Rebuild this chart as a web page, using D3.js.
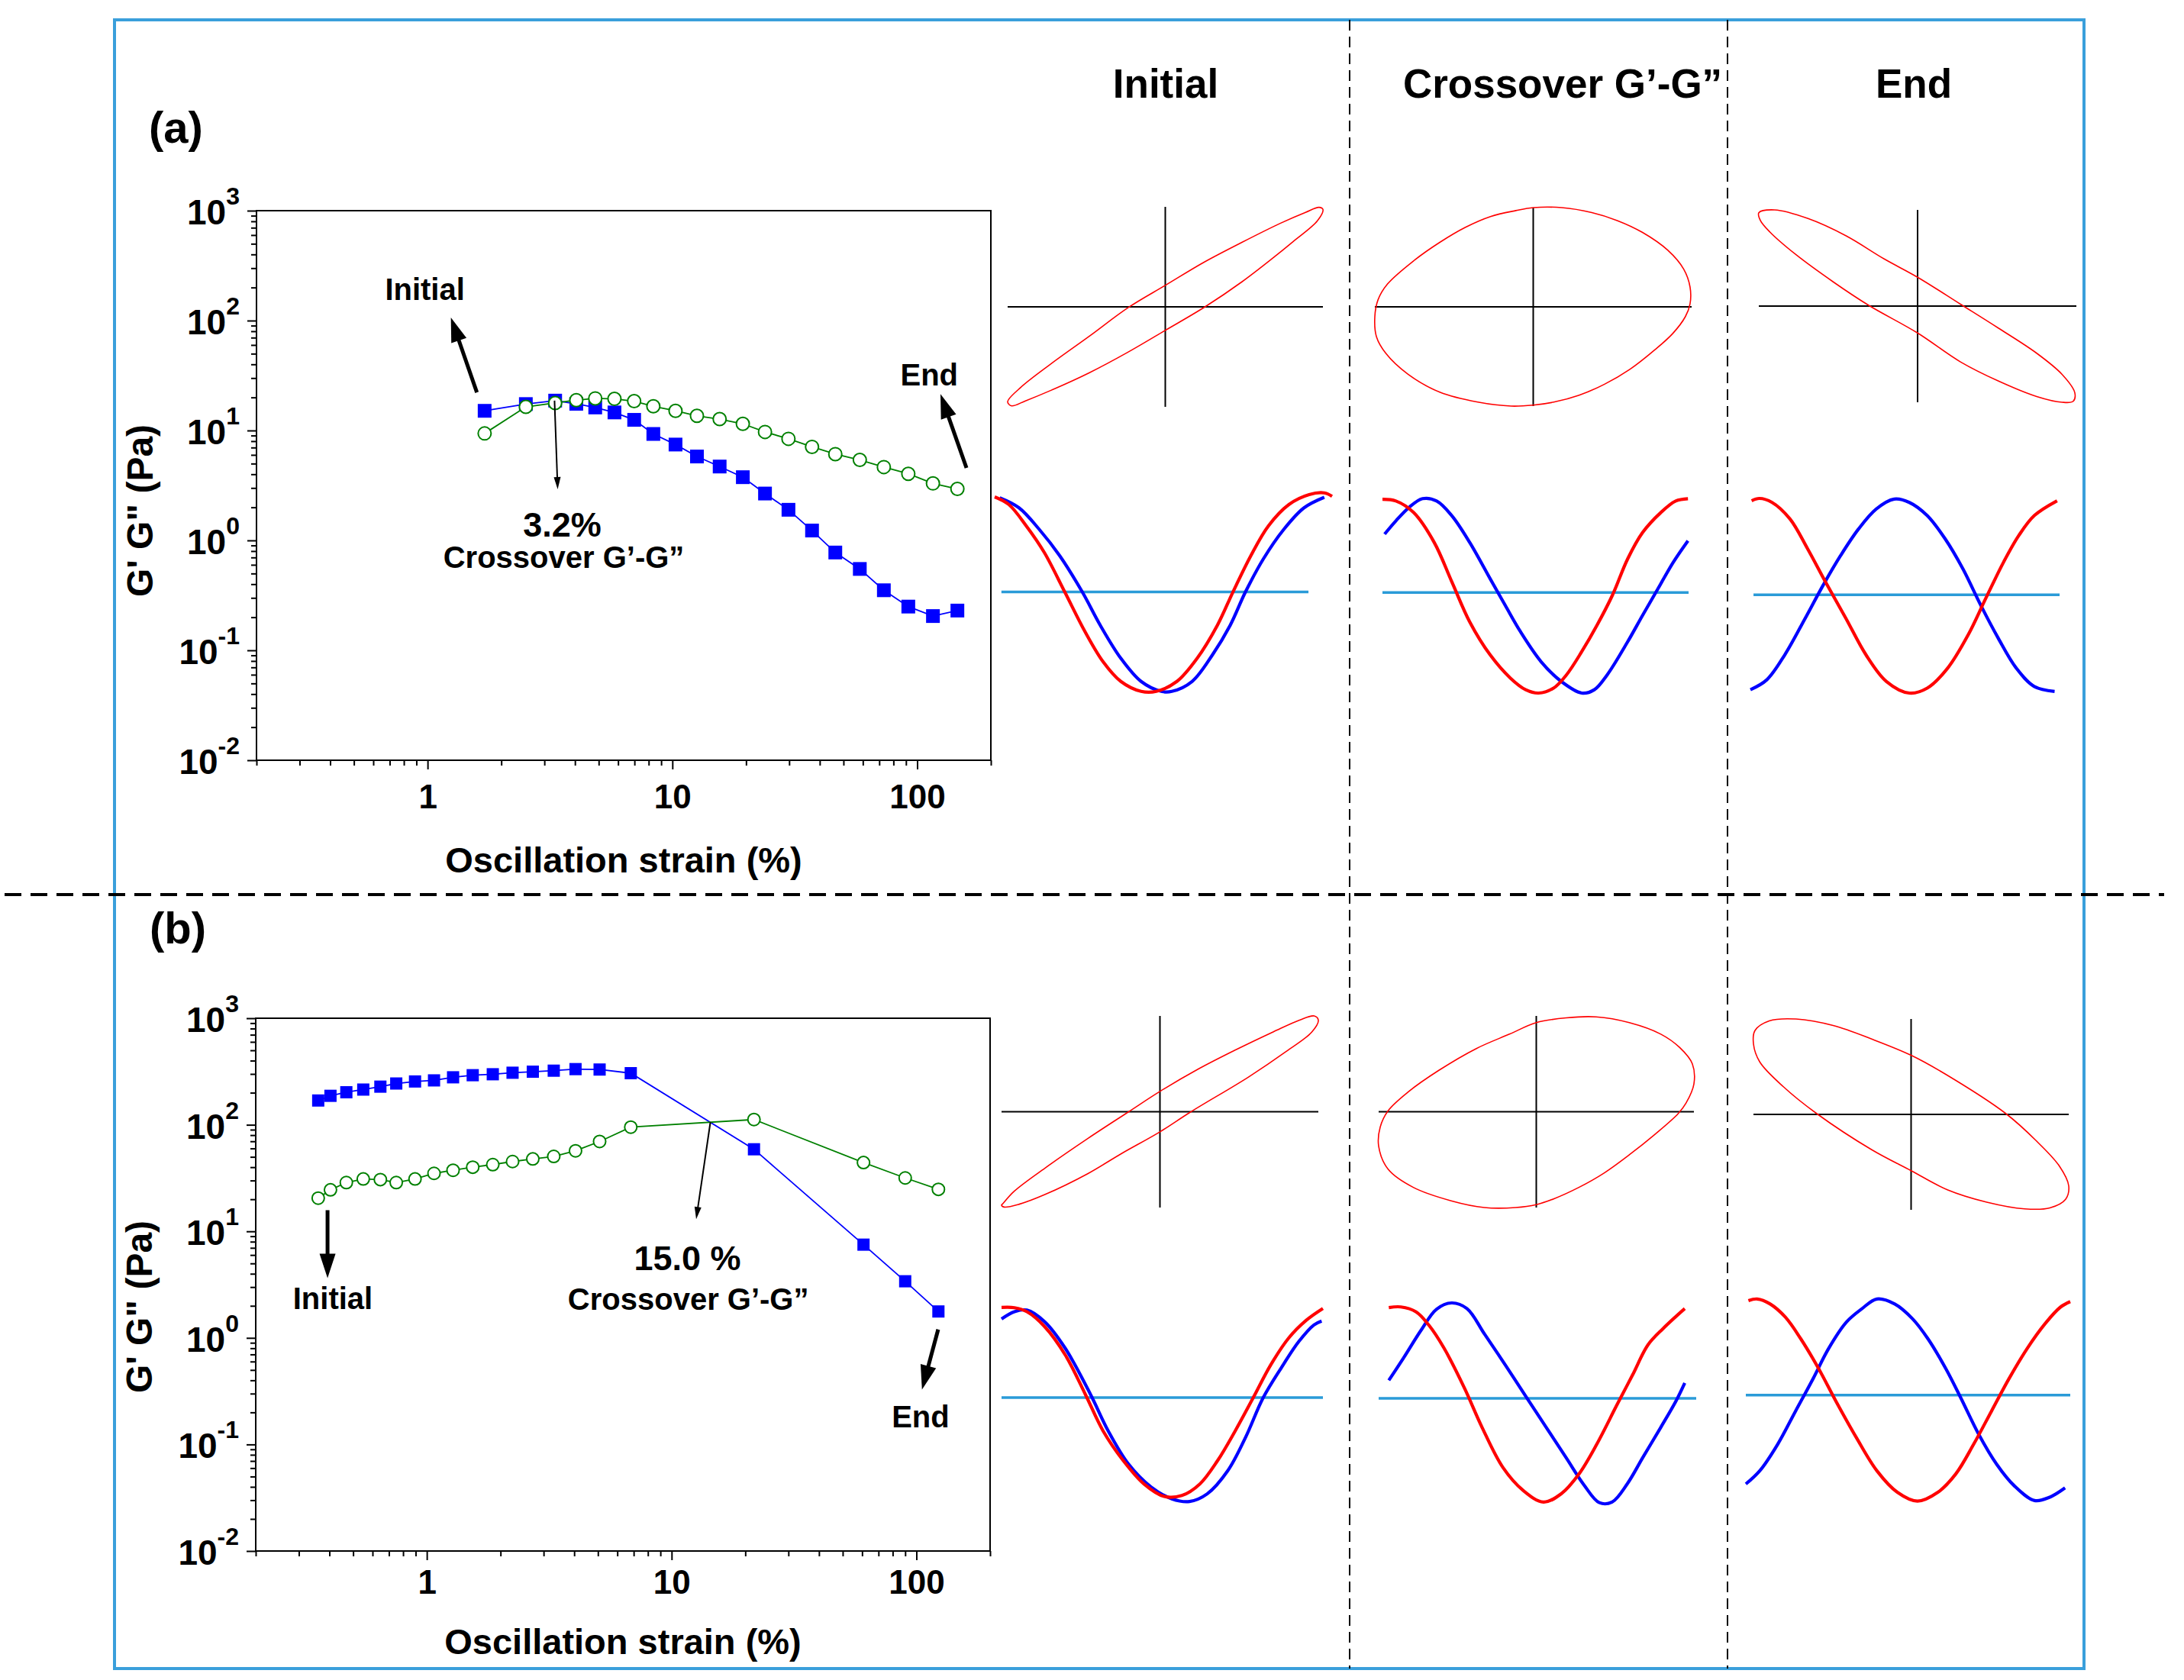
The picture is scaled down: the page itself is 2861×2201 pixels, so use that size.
<!DOCTYPE html>
<html>
<head>
<meta charset="utf-8">
<script src="https://cdn.jsdelivr.net/npm/d3@7"></script>
<style>
html, body { margin: 0; padding: 0; background: #fff; }
svg { display: block; font-family: "Liberation Sans", Arial, sans-serif; }
</style>
</head>
<body>
<div id="chart"></div>
<script>
// ─── Strain sweep data ──────────────────────────────────────────────────
var strainA = [1.71, 2.52, 3.32, 4.05, 4.84, 5.8, 6.98, 8.36, 10.3, 12.6, 15.6, 19.4, 23.9, 29.8, 37.2, 46.3, 58.3, 73.1, 92, 116, 146];
var gPrimeA = [15.1, 17.4, 18.7, 17.5, 16.2, 14.6, 12.5, 9.3, 7.45, 5.8, 4.7, 3.76, 2.67, 1.9, 1.23, 0.776, 0.55, 0.352, 0.25, 0.205, 0.23];
var gDoubleA = [9.4, 16.4, 17.8, 18.9, 19.6, 19.4, 18.5, 16.6, 15.1, 13.6, 12.7, 11.5, 9.7, 8.4, 7.1, 6.1, 5.4, 4.65, 4.04, 3.3, 2.94];

var strainB = [0.36, 0.404, 0.469, 0.55, 0.646, 0.75, 0.895, 1.07, 1.28, 1.54, 1.86, 2.24, 2.71, 3.3, 4.05, 5.08, 6.81, 21.7, 60.8, 90, 123];
var gPrimeB = [169, 187, 202, 214, 228, 244, 255, 261, 279, 292, 298, 308, 315, 322, 333, 330, 305, 58.9, 7.5, 3.4, 1.77];
var gDoubleB = [20.5, 24.5, 28.7, 31, 30.6, 28.7, 31, 35, 37.4, 40, 42.3, 45.2, 47.8, 50.5, 57, 69.7, 95, 112, 44.2, 31.7, 24.8];

var xTickValues = [1, 10, 100];
var xTickLabels = ['1', '10', '100'];
var yTickExponents = ['-2', '-1', '0', '1', '2', '3'];
var columnTitles = ['Initial', 'Crossover G\u2019-G\u201D', 'End'];

// ─── Lissajous loops, normalised strain (u) / stress (v) ────────────────
var loopAInitial = [[-1.0, -0.95], [-0.92, -0.81], [-0.725, -0.57], [-0.483, -0.295], [-0.233, -0.005], [0.0, 0.215], [0.244, 0.445], [0.486, 0.645], [0.729, 0.835], [0.89, 0.945], [0.975, 0.995], [1.0, 0.975], [0.965, 0.86], [0.809, 0.65], [0.688, 0.495], [0.486, 0.25], [0.252, 0.0], [0.0, -0.235], [-0.241, -0.457], [-0.483, -0.66], [-0.725, -0.835], [-0.887, -0.94], [-0.975, -0.99]];
var loopACross = [[0, 1.0], [0.18, 1.0], [0.37, 0.95], [0.53, 0.87], [0.69, 0.75], [0.85, 0.57], [0.95, 0.38], [0.99, 0.2], [0.99, 0.03], [0.96, -0.1], [0.88, -0.27], [0.77, -0.43], [0.61, -0.63], [0.45, -0.78], [0.29, -0.89], [0.13, -0.96], [0, -0.99], [-0.14, -1.0], [-0.35, -0.96], [-0.59, -0.86], [-0.79, -0.68], [-0.93, -0.47], [-0.99, -0.3], [-1.0, -0.1], [-0.98, 0.07], [-0.92, 0.23], [-0.75, 0.47], [-0.59, 0.65], [-0.43, 0.8], [-0.27, 0.91], [-0.11, 0.97]];
var loopAEnd = [[-1.0, 0.97], [-0.9, 1.0], [-0.69, 0.91], [-0.45, 0.73], [-0.21, 0.49], [0, 0.3], [0.27, 0.02], [0.51, -0.23], [0.75, -0.49], [0.91, -0.71], [0.99, -0.9], [0.98, -0.99], [0.91, -1.0], [0.75, -0.94], [0.51, -0.78], [0.27, -0.58], [0, -0.28], [-0.31, 0.01], [-0.53, 0.25], [-0.77, 0.54], [-0.93, 0.77], [-0.99, 0.89]];
var loopBInitial = [[-0.992, -0.96], [-0.92, -0.83], [-0.727, -0.59], [-0.454, -0.278], [-0.197, 0.0], [0.0, 0.212], [0.236, 0.44], [0.477, 0.645], [0.717, 0.835], [0.878, 0.955], [0.974, 1.0], [1.0, 0.955], [0.958, 0.83], [0.798, 0.63], [0.557, 0.36], [0.196, 0.0], [0.0, -0.21], [-0.246, -0.44], [-0.454, -0.645], [-0.727, -0.865], [-0.888, -0.965], [-0.984, -0.995], [-1.0, -0.975]];
var loopBCross = [[0, 0.93], [0.19, 0.98], [0.38, 0.99], [0.59, 0.93], [0.79, 0.81], [0.91, 0.67], [0.99, 0.5], [1.0, 0.29], [0.95, 0.09], [0.9, -0.02], [0.75, -0.24], [0.59, -0.45], [0.43, -0.64], [0.27, -0.79], [0.11, -0.91], [0, -0.97], [-0.13, -1.0], [-0.33, -1.0], [-0.54, -0.93], [-0.78, -0.79], [-0.94, -0.6], [-1.0, -0.36], [-0.99, -0.16], [-0.94, 0.01], [-0.81, 0.21], [-0.62, 0.43], [-0.38, 0.66], [-0.17, 0.81]];
var loopBEnd = [[-0.99, 0.88], [-0.9, 0.98], [-0.73, 1.0], [-0.49, 0.93], [-0.25, 0.79], [0, 0.62], [0.23, 0.41], [0.6, 0.01], [0.79, -0.27], [0.94, -0.54], [1.0, -0.75], [0.98, -0.89], [0.88, -0.98], [0.72, -0.99], [0.48, -0.92], [0.23, -0.79], [0, -0.59], [-0.25, -0.37], [-0.6, 0.01], [-0.81, 0.29], [-0.96, 0.55], [-1.0, 0.74]];

// ─── Waveforms over one cycle: [cycle fraction, normalised amplitude] ───
var stressAInitial = [[0, 0.977], [0.042, 0.9], [0.094, 0.683], [0.147, 0.417], [0.208, 0.017], [0.268, -0.383], [0.321, -0.683], [0.374, -0.883], [0.434, -0.983], [0.479, -0.983], [0.54, -0.883], [0.6, -0.65], [0.66, -0.317], [0.706, 0.017], [0.759, 0.383], [0.811, 0.683], [0.872, 0.9], [0.932, 1.0], [0.977, 1.017], [1.0, 0.983]];
var strainAInitial = [[0.015, 0.967], [0.072, 0.867], [0.132, 0.65], [0.193, 0.383], [0.26, 0.017], [0.313, -0.317], [0.374, -0.65], [0.434, -0.883], [0.494, -0.983], [0.525, -0.983], [0.585, -0.883], [0.645, -0.617], [0.698, -0.317], [0.743, 0.017], [0.796, 0.35], [0.857, 0.65], [0.917, 0.867], [0.977, 0.973]];
var stressACross = [[0, 0.983], [0.044, 0.966], [0.102, 0.847], [0.169, 0.542], [0.227, 0.136], [0.285, -0.271], [0.352, -0.61], [0.418, -0.847], [0.468, -0.966], [0.51, -1.0], [0.559, -0.949], [0.601, -0.814], [0.651, -0.576], [0.701, -0.305], [0.751, 0.0], [0.801, 0.373], [0.85, 0.644], [0.909, 0.847], [0.958, 0.966], [0.998, 0.99]];
var strainACross = [[0.007, 0.627], [0.044, 0.763], [0.086, 0.898], [0.131, 0.99], [0.177, 0.966], [0.227, 0.814], [0.285, 0.542], [0.352, 0.169], [0.401, -0.102], [0.451, -0.373], [0.518, -0.678], [0.584, -0.881], [0.651, -1.0], [0.692, -0.966], [0.734, -0.814], [0.801, -0.475], [0.85, -0.203], [0.9, 0.068], [0.95, 0.339], [0.998, 0.559]];
var stressAEnd = [[0.004, 0.976], [0.029, 1.0], [0.07, 0.959], [0.128, 0.789], [0.185, 0.482], [0.243, 0.141], [0.309, -0.233], [0.374, -0.608], [0.44, -0.881], [0.514, -1.0], [0.572, -0.949], [0.638, -0.744], [0.704, -0.404], [0.761, -0.029], [0.819, 0.346], [0.868, 0.618], [0.918, 0.823], [0.992, 0.976]];
var strainAEnd = [[0, -0.966], [0.053, -0.864], [0.111, -0.608], [0.177, -0.233], [0.235, 0.107], [0.292, 0.414], [0.35, 0.687], [0.407, 0.891], [0.465, 0.993], [0.514, 0.959], [0.572, 0.823], [0.63, 0.584], [0.687, 0.278], [0.745, -0.097], [0.802, -0.438], [0.86, -0.744], [0.918, -0.932], [0.984, -0.983]];

var stressBInitial = [[0, 0.993], [0.04, 0.99], [0.079, 0.949], [0.134, 0.797], [0.198, 0.508], [0.261, 0.102], [0.316, -0.271], [0.379, -0.576], [0.443, -0.814], [0.506, -0.942], [0.561, -0.932], [0.617, -0.814], [0.672, -0.576], [0.727, -0.271], [0.783, 0.068], [0.838, 0.407], [0.893, 0.678], [0.949, 0.864], [1.0, 0.983]];
var strainBInitial = [[0, 0.875], [0.04, 0.949], [0.079, 0.966], [0.134, 0.847], [0.198, 0.576], [0.277, 0.102], [0.332, -0.271], [0.395, -0.61], [0.466, -0.847], [0.53, -0.966], [0.585, -0.993], [0.64, -0.915], [0.704, -0.678], [0.759, -0.339], [0.814, 0.068], [0.87, 0.373], [0.925, 0.644], [0.972, 0.814], [0.996, 0.854]];
var stressBCross = [[0.032, 0.954], [0.07, 0.96], [0.118, 0.911], [0.158, 0.779], [0.206, 0.549], [0.27, 0.153], [0.326, -0.242], [0.391, -0.638], [0.455, -0.868], [0.519, -0.984], [0.575, -0.901], [0.631, -0.703], [0.687, -0.407], [0.751, -0.012], [0.8, 0.285], [0.848, 0.582], [0.896, 0.746], [0.964, 0.944]];
var strainBCross = [[0.032, 0.229], [0.078, 0.45], [0.134, 0.73], [0.182, 0.937], [0.23, 1.0], [0.278, 0.944], [0.334, 0.687], [0.399, 0.381], [0.463, 0.071], [0.527, -0.236], [0.591, -0.545], [0.647, -0.815], [0.695, -0.99], [0.735, -0.984], [0.783, -0.802], [0.832, -0.539], [0.888, -0.242], [0.936, 0.021], [0.964, 0.203]];
var stressBEnd = [[0.008, 0.977], [0.035, 0.994], [0.075, 0.945], [0.122, 0.815], [0.169, 0.605], [0.224, 0.313], [0.278, -0.011], [0.341, -0.368], [0.404, -0.692], [0.467, -0.903], [0.529, -0.99], [0.592, -0.903], [0.647, -0.724], [0.702, -0.433], [0.757, -0.108], [0.812, 0.216], [0.867, 0.507], [0.922, 0.75], [0.969, 0.912], [1.0, 0.968]];
var strainBEnd = [[0, -0.822], [0.043, -0.692], [0.098, -0.433], [0.153, -0.108], [0.208, 0.216], [0.255, 0.507], [0.31, 0.767], [0.357, 0.896], [0.404, 0.994], [0.459, 0.945], [0.514, 0.799], [0.561, 0.605], [0.616, 0.313], [0.663, 0.021], [0.718, -0.335], [0.773, -0.627], [0.827, -0.838], [0.89, -0.984], [0.937, -0.951], [0.984, -0.86]];

var baselineA = [0.02, 0.03, 0.01];
var baselineB = [0.07, 0.05, 0.05];

(function () {
	'use strict';

	var W = 2861, H = 2201;
	var COLORS = {
		gp:     '#0000ff',
		gpp:    '#008000',
		red:    '#ff0000',
		blue:   '#0000ff',
		base:   '#2a9bd8',
		frame:  '#3a9fdb',
		ink:    '#000000'
	};
	var FONT_BOLD = 'bold';

	var svg = d3.select('#chart').append('svg')
		.attr('width', W).attr('height', H)
		.attr('viewBox', '0 0 ' + W + ' ' + H);
	svg.append('rect').attr('width', W).attr('height', H).attr('fill', '#fff');

	// ─── Helpers ─────────────────────────────────────────────────────────
	function isPow10( v ) {
		var l = Math.log10( v );
		return Math.abs( l - Math.round( l ) ) < 1e-9;
	}

	function arrow( g, p1, p2, width, headLen, headW ) {
		var dx = p2[0] - p1[0], dy = p2[1] - p1[1];
		var len = Math.sqrt( dx * dx + dy * dy );
		var ux = dx / len, uy = dy / len;
		var bx = p2[0] - ux * headLen, by = p2[1] - uy * headLen;
		g.append( 'line' )
			.attr( 'x1', p1[0] ).attr( 'y1', p1[1] )
			.attr( 'x2', bx + ux * 2 ).attr( 'y2', by + uy * 2 )
			.attr( 'stroke', COLORS.ink ).attr( 'stroke-width', width );
		var px = -uy * headW / 2, py = ux * headW / 2;
		g.append( 'path' )
			.attr( 'd', 'M' + p2[0] + ',' + p2[1] + 'L' + ( bx + px ) + ',' + ( by + py ) + 'L' + ( bx - px ) + ',' + ( by - py ) + 'Z' )
			.attr( 'fill', COLORS.ink );
	}

	// ─── Strain sweep plot ──────────────────────────────────────────────
	function renderSweep( cfg ) {
		var b = cfg.box;
		var x = d3.scaleLog().domain( [ 0.2, 200 ] ).range( [ b.x0, b.x1 ] );
		var y = d3.scaleLog().domain( [ 0.01, 1000 ] ).range( [ b.y1, b.y0 ] );
		var g = svg.append( 'g' );

		g.append( 'rect' )
			.attr( 'x', b.x0 ).attr( 'y', b.y0 )
			.attr( 'width', b.x1 - b.x0 ).attr( 'height', b.y1 - b.y0 )
			.attr( 'fill', 'none' ).attr( 'stroke', COLORS.ink ).attr( 'stroke-width', 2 );

		var styleTicks = function ( s ) {
			s.select( '.domain' ).remove();
			s.selectAll( 'line' ).attr( 'stroke', COLORS.ink ).attr( 'stroke-width', 2 );
		};

		var minorX = x.ticks().filter( function ( v ) { return ! isPow10( v ); } );
		var minorY = y.ticks().filter( function ( v ) { return ! isPow10( v ); } );
		var majorY = y.ticks().filter( isPow10 );

		g.append( 'g' ).attr( 'transform', 'translate(0,' + b.y1 + ')' )
			.call( d3.axisBottom( x ).tickValues( minorX ).tickSize( 7 ).tickFormat( '' ) )
			.call( styleTicks );
		g.append( 'g' ).attr( 'transform', 'translate(0,' + b.y1 + ')' )
			.call( d3.axisBottom( x ).tickValues( xTickValues ).tickSize( 12 ).tickPadding( cfg.xPad )
				.tickFormat( function ( d, i ) { return xTickLabels[ i ]; } ) )
			.call( styleTicks )
			.call( function ( s ) {
				s.selectAll( 'text' ).attr( 'fill', COLORS.ink )
					.style( 'font-size', '44px' ).style( 'font-weight', FONT_BOLD )
					.style( 'font-family', '"Liberation Sans", Arial, sans-serif' );
			} );

		g.append( 'g' ).attr( 'transform', 'translate(' + b.x0 + ',0)' )
			.call( d3.axisLeft( y ).tickValues( minorY ).tickSize( 7 ).tickFormat( '' ) )
			.call( styleTicks );
		g.append( 'g' ).attr( 'transform', 'translate(' + b.x0 + ',0)' )
			.call( d3.axisLeft( y ).tickValues( majorY ).tickSize( 12 ).tickFormat( '' ) )
			.call( styleTicks );

		var yl = g.append( 'g' ).selectAll( 'text' ).data( majorY ).join( 'text' )
			.attr( 'x', b.x0 - 22 )
			.attr( 'y', function ( d ) { return y( d ) + 18; } )
			.attr( 'text-anchor', 'end' )
			.attr( 'fill', COLORS.ink )
			.style( 'font-size', '46px' ).style( 'font-weight', FONT_BOLD );
		yl.append( 'tspan' ).text( '10' );
		yl.append( 'tspan' ).attr( 'dy', -26 ).style( 'font-size', '32px' )
			.text( function ( d, i ) { return yTickExponents[ i ]; } );

		// Axis titles.
		g.append( 'text' )
			.attr( 'x', ( b.x0 + b.x1 ) / 2 ).attr( 'y', cfg.xTitleY )
			.attr( 'text-anchor', 'middle' ).attr( 'fill', COLORS.ink )
			.style( 'font-size', '47px' ).style( 'font-weight', FONT_BOLD )
			.text( 'Oscillation strain (%)' );
		g.append( 'text' )
			.attr( 'transform', 'translate(' + ( b.x0 - 153 ) + ',' + cfg.yTitleY + ') rotate(-90)' )
			.attr( 'text-anchor', 'middle' ).attr( 'dy', '0.36em' ).attr( 'fill', COLORS.ink )
			.style( 'font-size', '48px' ).style( 'font-weight', FONT_BOLD )
			.text( 'G\' G" (Pa)' );

		// Panel letter.
		svg.append( 'text' )
			.attr( 'x', cfg.letterPos[0] ).attr( 'y', cfg.letterPos[1] )
			.attr( 'fill', COLORS.ink )
			.style( 'font-size', '58px' ).style( 'font-weight', FONT_BOLD )
			.text( cfg.letter );

		var rowsP = cfg.strain.map( function ( s, i ) { return [ s, cfg.gp[ i ] ]; } );
		var rowsPP = cfg.strain.map( function ( s, i ) { return [ s, cfg.gpp[ i ] ]; } );
		var line = d3.line()
			.x( function ( d ) { return x( d[0] ); } )
			.y( function ( d ) { return y( d[1] ); } );

		// G' (filled squares).
		g.append( 'path' ).datum( rowsP )
			.attr( 'fill', 'none' ).attr( 'stroke', COLORS.gp ).attr( 'stroke-width', 1.8 ).attr( 'd', line );
		g.selectAll( 'rect.gp' ).data( rowsP ).join( 'rect' )
			.attr( 'class', 'gp' )
			.attr( 'x', function ( d ) { return x( d[0] ) - cfg.sq / 2; } )
			.attr( 'y', function ( d ) { return y( d[1] ) - cfg.sq / 2; } )
			.attr( 'width', cfg.sq ).attr( 'height', cfg.sq )
			.attr( 'fill', COLORS.gp );

		// G'' (open circles).
		g.append( 'path' ).datum( rowsPP )
			.attr( 'fill', 'none' ).attr( 'stroke', COLORS.gpp ).attr( 'stroke-width', 1.8 ).attr( 'd', line );
		g.selectAll( 'circle.gpp' ).data( rowsPP ).join( 'circle' )
			.attr( 'class', 'gpp' )
			.attr( 'cx', function ( d ) { return x( d[0] ); } )
			.attr( 'cy', function ( d ) { return y( d[1] ); } )
			.attr( 'r', cfg.r )
			.attr( 'fill', '#fff' ).attr( 'stroke', COLORS.gpp ).attr( 'stroke-width', 2 );

		// Annotations.
		cfg.arrows.forEach( function ( a ) {
			var p1 = [ x( a.from[0] ), y( a.from[1] ) ];
			var p2 = [ x( a.to[0] ), y( a.to[1] ) ];
			if ( a.thin ) {
				arrow( g, p1, p2, 2, 16, 9 );
			} else {
				arrow( g, p1, p2, 5, 32, 21 );
			}
		} );
		cfg.notes.forEach( function ( n ) {
			g.append( 'text' )
				.attr( 'x', x( n.at[0] ) ).attr( 'y', y( n.at[1] ) )
				.attr( 'text-anchor', 'middle' ).attr( 'fill', COLORS.ink )
				.style( 'font-size', n.size + 'px' ).style( 'font-weight', FONT_BOLD )
				.text( n.text );
		} );
	}

	// ─── LAOS panels: Lissajous loop + waveforms ─────────────────────────
	function renderLoop( loop, bx ) {
		var lx = d3.scaleLinear().domain( [ -1, 1 ] ).range( [ bx[0], bx[1] ] );
		var ly = d3.scaleLinear().domain( [ -1, 1 ] ).range( [ bx[3], bx[2] ] );
		var g = svg.append( 'g' );
		g.append( 'line' )
			.attr( 'x1', lx( -1 ) ).attr( 'x2', lx( 1 ) ).attr( 'y1', ly( 0 ) ).attr( 'y2', ly( 0 ) )
			.attr( 'stroke', COLORS.ink ).attr( 'stroke-width', 2 );
		g.append( 'line' )
			.attr( 'x1', lx( 0 ) ).attr( 'x2', lx( 0 ) ).attr( 'y1', ly( -1 ) ).attr( 'y2', ly( 1 ) )
			.attr( 'stroke', COLORS.ink ).attr( 'stroke-width', 2 );
		g.append( 'path' ).datum( loop )
			.attr( 'fill', 'none' ).attr( 'stroke', COLORS.red ).attr( 'stroke-width', 1.6 )
			.attr( 'd', d3.line()
				.x( function ( d ) { return lx( d[0] ); } )
				.y( function ( d ) { return ly( d[1] ); } )
				.curve( d3.curveCatmullRomClosed.alpha( 0.5 ) ) );
	}

	function renderWave( stress, strain, base, span, bx ) {
		var wx = d3.scaleLinear().domain( [ 0, 1 ] ).range( [ bx[0], bx[1] ] );
		var wy = d3.scaleLinear().domain( [ -1, 1 ] ).range( [ bx[3], bx[2] ] );
		var g = svg.append( 'g' );
		var wl = d3.line()
			.x( function ( d ) { return wx( d[0] ); } )
			.y( function ( d ) { return wy( d[1] ); } )
			.curve( d3.curveCatmullRom.alpha( 0.5 ) );
		g.append( 'line' )
			.attr( 'x1', wx( span[0] ) ).attr( 'x2', wx( span[1] ) )
			.attr( 'y1', wy( base ) ).attr( 'y2', wy( base ) )
			.attr( 'stroke', COLORS.base ).attr( 'stroke-width', 3.5 );
		g.append( 'path' ).datum( strain )
			.attr( 'fill', 'none' ).attr( 'stroke', COLORS.blue ).attr( 'stroke-width', 4.2 ).attr( 'd', wl );
		g.append( 'path' ).datum( stress )
			.attr( 'fill', 'none' ).attr( 'stroke', COLORS.red ).attr( 'stroke-width', 4.2 ).attr( 'd', wl );
	}

	// ─── Frame & separators ─────────────────────────────────────────────
	svg.append( 'rect' )
		.attr( 'x', 150 ).attr( 'y', 26 ).attr( 'width', 2730 - 150 ).attr( 'height', 2186 - 26 )
		.attr( 'fill', 'none' ).attr( 'stroke', COLORS.frame ).attr( 'stroke-width', 4 );
	[ 1768, 2263 ].forEach( function ( xv ) {
		svg.append( 'line' )
			.attr( 'x1', xv ).attr( 'x2', xv ).attr( 'y1', 26 ).attr( 'y2', 2186 )
			.attr( 'stroke', COLORS.ink ).attr( 'stroke-width', 2 ).attr( 'stroke-dasharray', '14,8' );
	} );
	svg.append( 'line' )
		.attr( 'x1', 6 ).attr( 'x2', 2835 ).attr( 'y1', 1172 ).attr( 'y2', 1172 )
		.attr( 'stroke', COLORS.ink ).attr( 'stroke-width', 4 ).attr( 'stroke-dasharray', '22,12' );

	// Column titles.
	[ 1527, 2047, 2507 ].forEach( function ( cx, i ) {
		svg.append( 'text' )
			.attr( 'x', cx ).attr( 'y', 128 )
			.attr( 'text-anchor', 'middle' ).attr( 'fill', COLORS.ink )
			.style( 'font-size', '53px' ).style( 'font-weight', FONT_BOLD )
			.text( columnTitles[ i ] );
	} );

	// ─── Plots ──────────────────────────────────────────────────────────
	var CROSS = 'Crossover G\u2019-G\u201D';

	try {
		renderSweep( {
			letter: '(a)', letterPos: [ 195, 187 ],
			box: { x0: 336, x1: 1298, y0: 276, y1: 996 },
			xPad: 20, xTitleY: 1143, yTitleY: 669, sq: 18, r: 8.5,
			strain: strainA, gp: gPrimeA, gpp: gDoubleA,
			arrows: [
				{ from: [ 1.59, 22.2 ], to: [ 1.245, 106.7 ] },
				{ from: [ 159, 4.57 ], to: [ 124.5, 21.5 ] },
				{ from: [ 3.3, 18.7 ], to: [ 3.4, 2.92 ], thin: true }
			],
			notes: [
				{ text: 'Initial', at: [ 0.975, 154 ], size: 40 },
				{ text: 'End', at: [ 112, 25.7 ], size: 40 },
				{ text: '3.2%', at: [ 3.55, 1.08 ], size: 45 },
				{ text: CROSS, at: [ 3.6, 0.562 ], size: 40 }
			]
		} );
	} catch ( e ) { console.error( 'sweep a:', e ); }

	try {
		renderSweep( {
			letter: '(b)', letterPos: [ 196, 1236 ],
			box: { x0: 335, x1: 1297, y0: 1334, y1: 2032 },
			xPad: 13, xTitleY: 2167, yTitleY: 1712, sq: 16, r: 8,
			strain: strainB, gp: gPrimeB, gpp: gDoubleB,
			arrows: [
				{ from: [ 0.393, 15.8 ], to: [ 0.393, 3.64 ] },
				{ from: [ 122.7, 1.2 ], to: [ 105.4, 0.327 ] },
				{ from: [ 14.4, 105.7 ], to: [ 12.6, 13.0 ], thin: true }
			],
			notes: [
				{ text: 'Initial', at: [ 0.413, 1.88 ], size: 40 },
				{ text: 'End', at: [ 104, 0.145 ], size: 40 },
				{ text: '15.0 %', at: [ 11.6, 4.3 ], size: 45 },
				{ text: CROSS, at: [ 11.7, 1.82 ], size: 40 }
			]
		} );
	} catch ( e ) { console.error( 'sweep b:', e ); }

	try {
		renderLoop( loopAInitial, [ 1320, 1733, 271, 533 ] );
		renderLoop( loopACross,   [ 1801, 2216, 272, 532 ] );
		renderLoop( loopAEnd,     [ 2304, 2720, 275, 527 ] );
		renderLoop( loopBInitial, [ 1312, 1727, 1331, 1582 ] );
		renderLoop( loopBCross,   [ 1806, 2219, 1331, 1582 ] );
		renderLoop( loopBEnd,     [ 2297, 2710, 1335, 1585 ] );

		renderWave( stressAInitial, strainAInitial, baselineA[0], [ 0.02, 0.93 ], [ 1303, 1745, 648, 908 ] );
		renderWave( stressACross,   strainACross,   baselineA[1], [ 0, 1 ],       [ 1811, 2212, 652, 908 ] );
		renderWave( stressAEnd,     strainAEnd,     baselineA[2], [ 0.01, 1 ],    [ 2293, 2698, 653, 908 ] );
		renderWave( stressBInitial, strainBInitial, baselineB[0], [ 0, 1 ],       [ 1312, 1733, 1712, 1968 ] );
		renderWave( stressBCross,   strainBCross,   baselineB[1], [ 0, 1 ],       [ 1806, 2222, 1707, 1970 ] );
		renderWave( stressBEnd,     strainBEnd,     baselineB[2], [ 0, 1 ],       [ 2287, 2712, 1701, 1968 ] );
	} catch ( e ) { console.error( 'LAOS panels:', e ); }
} )();
</script>
</body>
</html>
